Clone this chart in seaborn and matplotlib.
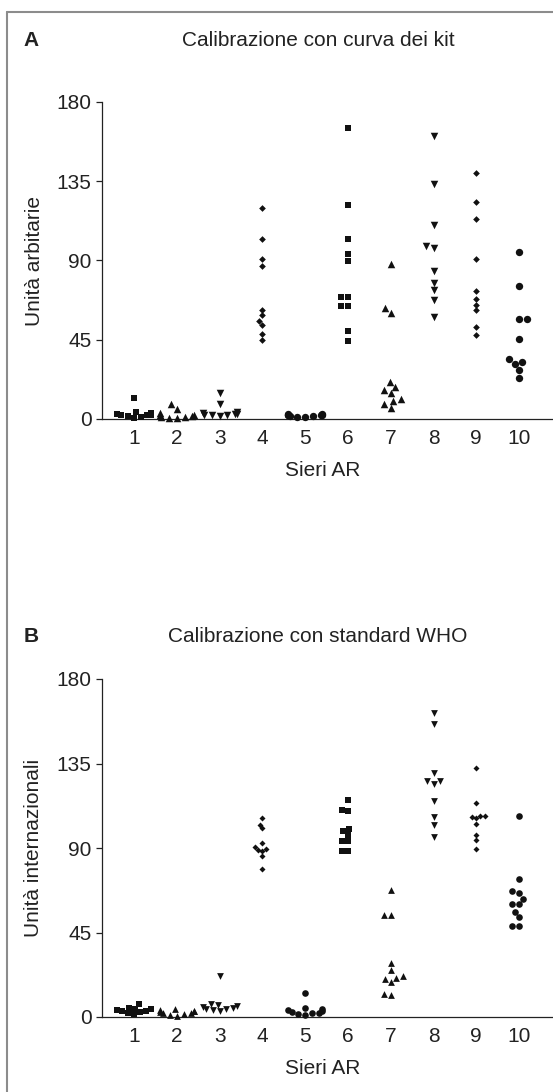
import pandas as pd
import matplotlib.pyplot as plt
from matplotlib.lines import Line2D
import seaborn as sns

# ---------------- data ----------------
categories = ["1", "2", "3", "4", "5", "6", "7", "8", "9", "10"]

# panel A: calibrazione con curva dei kit (unita arbitrarie)
kit_1 = [12, 4, 3.5, 3, 2.5, 2, 2, 1.5, 1, 0.5]
kit_2 = [8.5, 5.5, 3.5, 2.5, 2, 1.5, 1, 1, 0.5, 0.5]
kit_3 = [15, 8.5, 4, 3.5, 3, 3, 2.5, 2, 2, 1.5]
kit_4 = [120, 102, 91, 87, 62, 59, 55.5, 53.5, 48.5, 45]
kit_5 = [3, 3, 2.5, 2.5, 2, 2, 1.5, 1.5, 1, 1]
kit_6 = [165, 121.5, 102, 93.5, 89.5, 69, 69, 64, 64, 50, 44.5]
kit_7 = [88, 63, 60, 21, 18, 16.5, 14.5, 11.5, 10, 8.5, 6]
kit_8 = [160.5, 133.5, 110, 98, 97, 84, 77.5, 73, 67.5, 58]
kit_9 = [139.5, 123, 113.5, 91, 72.5, 68, 65, 62, 52, 47.5]
kit_10 = [95, 75.5, 57, 57, 45.5, 34, 32.5, 31.5, 28, 23.5]

# panel B: calibrazione con standard WHO (unita internazionali)
who_1 = [7, 5, 4.5, 4, 3.5, 3, 3, 2.5, 2, 1.5]
who_2 = [4, 3.5, 3, 3, 2.5, 2, 2, 1.5, 1, 0.5]
who_3 = [22, 7, 6.5, 6, 5.5, 5, 4.5, 4, 3.5, 3]
who_4 = [106, 102.5, 100.5, 92.5, 90.5, 89.5, 89, 88.5, 85.5, 79]
who_5 = [13, 5, 4, 3.5, 3, 2.5, 2, 2, 1.5, 1]
who_6 = [115.5, 110.5, 109.5, 100, 99, 97, 93.5, 93.5, 88.5, 88.5]
who_7 = [67.5, 54.5, 54.5, 29, 25, 22, 21, 20.5, 18.5, 12, 11.5]
who_8 = [162, 156, 130, 125.5, 125.5, 124, 115, 106.5, 102, 96]
who_9 = [132.5, 114, 107, 107, 106.5, 106, 103, 97, 94, 89.5]
who_10 = [107, 73.5, 67, 66, 63, 60, 60, 56, 53, 48.5, 48.5]

yticks = [0, 45, 90, 135, 180]

kit_groups = [kit_1, kit_2, kit_3, kit_4, kit_5, kit_6, kit_7, kit_8, kit_9, kit_10]
who_groups = [who_1, who_2, who_3, who_4, who_5, who_6, who_7, who_8, who_9, who_10]

# marker style for each serum
markers = ["s", "^", "v", "D", "o", "s", "^", "v", "D", "o"]
marker_size = {"s": 4.6, "^": 5.4, "v": 5.4, "D": 3.4, "o": 5.3}


def long_table(groups):
    rows = []
    for cat, vals in zip(categories, groups):
        for v in vals:
            rows.append({"siero": cat, "valore": v})
    return pd.DataFrame(rows)


df_kit = long_table(kit_groups)
df_who = long_table(who_groups)

# ---------------- figure ----------------
sns.set_theme(style="ticks")
plt.rcParams['font.family'] = ['Liberation Sans', 'DejaVu Sans']

W, H = 553, 1092
FS = 15
fig = plt.figure(figsize=(W / 100, H / 100), dpi=100)
fig.patch.set_facecolor("white")

axA = fig.add_axes([102 / W, 1 - 419 / H, 450 / W, 317 / H])
axB = fig.add_axes([102 / W, 1 - 1017 / H, 450 / W, 338 / H])

panels = [
    (axA, df_kit, "Unità arbitarie", "A", "Calibrazione con curva dei kit", 40, 1.0),
    (axB, df_who, "Unità internazionali", "B", "Calibrazione con standard WHO", 637, 0.9),
]

for ax, df, ylab, letter, title, ty, scale in panels:
    for cat, m in zip(categories, markers):
        sub = df[df["siero"] == cat]
        sns.swarmplot(data=sub, x="siero", y="valore", order=categories,
                      marker=m, color="#111111", size=marker_size[m] * scale,
                      linewidth=0, clip_on=False, warn_thresh=1, ax=ax)
    ax.set_ylim(0, 180)
    ax.set_yticks(yticks)
    ax.set_xlim(-0.75, 9.77)
    sns.despine(ax=ax)
    for sp in ["left", "bottom"]:
        ax.spines[sp].set_linewidth(0.9)
        ax.spines[sp].set_color("#222222")
    ax.tick_params(axis="x", length=0, pad=7, labelsize=FS, colors="#222222")
    ax.tick_params(axis="y", length=4.5, width=0.9, pad=3, labelsize=FS,
                   colors="#222222")
    ax.set_xlabel("Sieri AR", fontsize=FS, color="#222222", va="center")
    ax.set_ylabel(ylab, fontsize=FS, color="#222222", va="center")
    bb_h = ax.get_position().height * H
    ax.xaxis.set_label_coords(0.49, -51 / bb_h)
    ax.yaxis.set_label_coords(-68 / 450, 0.5)

    fig.text(31 / W, 1 - ty / H, letter, fontsize=FS, fontweight="bold",
             ha="center", va="center", color="#222222")
    fig.text(318 / W, 1 - ty / H, title, fontsize=FS, ha="center",
             va="center", color="#222222")

# grey frame of the original figure box
fig.add_artist(Line2D([7 / W, 7 / W], [0, 1 - 12 / H], transform=fig.transFigure,
                      color="#8c8c8c", lw=1.5))
fig.add_artist(Line2D([7 / W, 1], [1 - 12 / H, 1 - 12 / H], transform=fig.transFigure,
                      color="#8c8c8c", lw=1.5))

fig.savefig("out.png", dpi=100)
